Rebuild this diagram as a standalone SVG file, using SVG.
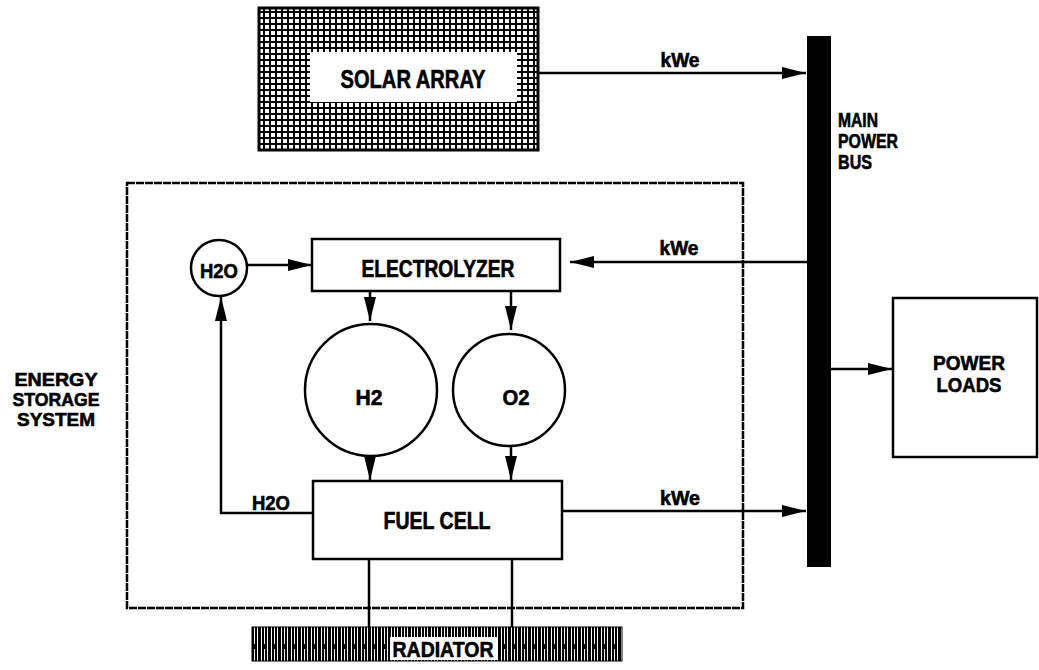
<svg xmlns="http://www.w3.org/2000/svg" width="1039" height="670" viewBox="0 0 1039 670">
<style>
.t{font-family:"Liberation Sans",Arial,sans-serif;font-weight:bold;fill:#000;stroke:#000;stroke-width:0.6}
.box{fill:#fff;stroke:#000;stroke-width:2.5}
.ln{fill:none;stroke:#000;stroke-width:2.5}
</style>
<defs>
<pattern id="grid" width="6" height="6" patternUnits="userSpaceOnUse">
<rect width="6" height="6" fill="#000"/>
<rect x="1" y="1" width="4" height="4" fill="#fff"/>
</pattern>
<pattern id="stripes" width="10" height="34" patternUnits="userSpaceOnUse">
<rect width="10" height="34" fill="#000"/>
<rect x="1" y="0" width="1" height="34" fill="#fff"/>
<rect x="4" y="3" width="1" height="29" fill="#fff"/>
<rect x="7" y="0" width="1" height="34" fill="#fff"/>
</pattern>
<marker id="ah" viewBox="0 0 24 12" refX="24" refY="6" markerWidth="24" markerHeight="12" markerUnits="userSpaceOnUse" orient="auto">
<path d="M0,0 L24,6 L0,12 Z" fill="#000"/>
</marker>
</defs>

<g id="energy-storage-system">
<rect x="127" y="183" width="616" height="425" fill="none" stroke="#000" stroke-width="2.5" stroke-dasharray="8 1"/>
<text class="t" x="56" y="386" font-size="19" text-anchor="middle" textLength="83" lengthAdjust="spacingAndGlyphs">ENERGY</text>
<text class="t" x="56" y="406" font-size="19" text-anchor="middle" textLength="87" lengthAdjust="spacingAndGlyphs">STORAGE</text>
<text class="t" x="56" y="426" font-size="19" text-anchor="middle" textLength="78" lengthAdjust="spacingAndGlyphs">SYSTEM</text>
</g>

<g id="solar-array">
<rect x="259" y="8" width="279" height="142" fill="url(#grid)" stroke="#000" stroke-width="3"/>
<rect x="310" y="52" width="207" height="50" fill="#fff"/>
<text class="t" x="413" y="88" font-size="25" text-anchor="middle" textLength="145" lengthAdjust="spacingAndGlyphs">SOLAR ARRAY</text>
</g>

<g id="main-power-bus">
<rect x="807" y="36" width="24" height="531" fill="#000"/>
<text class="t" x="838" y="127" font-size="20" textLength="40" lengthAdjust="spacingAndGlyphs">MAIN</text>
<text class="t" x="838" y="148" font-size="20" textLength="60" lengthAdjust="spacingAndGlyphs">POWER</text>
<text class="t" x="838" y="169" font-size="20" textLength="34" lengthAdjust="spacingAndGlyphs">BUS</text>
</g>

<g id="power-loads">
<rect class="box" x="893" y="298" width="144" height="159"/>
<text class="t" x="969" y="370" font-size="21" text-anchor="middle" textLength="72" lengthAdjust="spacingAndGlyphs">POWER</text>
<text class="t" x="969" y="392" font-size="21" text-anchor="middle" textLength="65" lengthAdjust="spacingAndGlyphs">LOADS</text>
</g>

<g id="h2o-tank">
<circle cx="219" cy="268" r="28" fill="#fff" stroke="#000" stroke-width="2.5"/>
<text class="t" x="219" y="278" font-size="21" text-anchor="middle" textLength="38" lengthAdjust="spacingAndGlyphs">H2O</text>
</g>

<g id="electrolyzer">
<rect class="box" x="312" y="239" width="248" height="52"/>
<text class="t" x="438" y="277" font-size="23" text-anchor="middle" textLength="153" lengthAdjust="spacingAndGlyphs">ELECTROLYZER</text>
</g>

<g id="h2-tank">
<circle cx="371" cy="390" r="66" fill="#fff" stroke="#000" stroke-width="2.5"/>
<text class="t" x="369" y="405" font-size="22" text-anchor="middle" textLength="27" lengthAdjust="spacingAndGlyphs">H2</text>
</g>

<g id="o2-tank">
<circle cx="509" cy="390" r="56" fill="#fff" stroke="#000" stroke-width="2.5"/>
<text class="t" x="516" y="405" font-size="22" text-anchor="middle" textLength="27" lengthAdjust="spacingAndGlyphs">O2</text>
</g>

<g id="fuel-cell">
<rect class="box" x="313" y="481" width="249" height="78"/>
<text class="t" x="437" y="529" font-size="23" text-anchor="middle" textLength="107" lengthAdjust="spacingAndGlyphs">FUEL CELL</text>
</g>

<g id="radiator">
<rect x="252" y="627" width="370" height="34" fill="url(#stripes)" stroke="#000" stroke-width="1"/>
<rect x="390" y="637" width="107" height="23" fill="#fff"/>
<text class="t" x="443" y="657" font-size="22" text-anchor="middle" textLength="101" lengthAdjust="spacingAndGlyphs">RADIATOR</text>
</g>

<g id="connectors">
<line class="ln" x1="538" y1="73" x2="806" y2="73" marker-end="url(#ah)"/>
<text class="t" x="680" y="67" font-size="20" text-anchor="middle" textLength="39" lengthAdjust="spacingAndGlyphs">kWe</text>
<line class="ln" x1="807" y1="262" x2="570" y2="262" marker-end="url(#ah)"/>
<text class="t" x="679" y="255" font-size="20" text-anchor="middle" textLength="39" lengthAdjust="spacingAndGlyphs">kWe</text>
<line class="ln" x1="562" y1="511" x2="806" y2="511" marker-end="url(#ah)"/>
<text class="t" x="680" y="505" font-size="20" text-anchor="middle" textLength="40" lengthAdjust="spacingAndGlyphs">kWe</text>
<line class="ln" x1="831" y1="369" x2="892" y2="369" marker-end="url(#ah)"/>
<line class="ln" x1="247" y1="265" x2="312" y2="265" marker-end="url(#ah)"/>
<line class="ln" x1="370" y1="291" x2="370" y2="321" marker-end="url(#ah)"/>
<line class="ln" x1="511" y1="291" x2="511" y2="330" marker-end="url(#ah)"/>
<line class="ln" x1="370" y1="456" x2="370" y2="480" marker-end="url(#ah)"/>
<line class="ln" x1="511" y1="446" x2="511" y2="480" marker-end="url(#ah)"/>
<polyline class="ln" points="313,513 221,513 221,297" marker-end="url(#ah)"/>
<text class="t" x="271" y="510" font-size="20" text-anchor="middle" textLength="38" lengthAdjust="spacingAndGlyphs">H2O</text>
<line class="ln" x1="369" y1="559" x2="369" y2="627"/>
<line class="ln" x1="512" y1="559" x2="512" y2="627"/>
</g>
</svg>
